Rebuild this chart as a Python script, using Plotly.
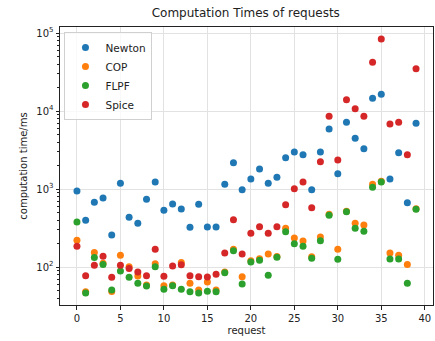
import plotly.graph_objects as go
import numpy as np

requests = list(range(40))
newton = [940, 397, 676, 767, 257, 1183, 434, 363, 738, 1231, 533, 643, 554, 323, 637, 327, 327, 1150, 2173, 980,
          1343, 1804, 1183, 1413, 2518, 2979, 2755, 980, 2979, 5875, 1571, 7160, 4467, 3290, 14550, 16370, 1343, 2917, 667, 6950]
cop = [220, 48.2, 154, 112, 48.7, 141, 101, 76.7, 58.7, 110, 57.5, 59, 114, 61.7, 50.7, 64.3, 50.7, 86, 169, 75,
       120, 128, 147, 136, 313, 235, 216, 135, 242, 474, 169, 520, 363, 345, 1150, 1256, 151, 141, 108, 558]
flpf = [378, 46.4, 132, 108, 50.7, 88.9, 73.8, 61.7, 57, 101, 51.8, 57.5, 51.8, 48.2, 46.4, 49, 48.2, 84.5, 162, 60.5,
        116, 122, 78.2, 133, 284, 199, 184, 130, 217, 460, 126, 512, 313, 287, 1052, 1231, 127, 127, 61.7, 550]
spice = [184, 77, 105, 137, 74, 105, 96, 86, 77, 169, 76, 103, 107, 77, 75, 74.5, 81, 151, 404, 147,
         270, 329, 270, 329, 630, 1010, 1231, 575, 2240, 8550, 2355, 13960, 10720, 8550, 42070, 83800, 6810, 7160, 2755, 34800]

series = [("Newton", newton, "#1f77b4"), ("COP", cop, "#ff7f0e"), ("FLPF", flpf, "#2ca02c"), ("Spice", spice, "#d62728")]

fig = go.Figure()
for name, vals, col in series:
    fig.add_trace(go.Scatter(x=requests, y=vals, mode="markers", name=name,
                             marker=dict(color=col, size=7, line=dict(width=0))))

ytick_vals = [100, 1000, 10000, 100000]
ytick_text = ["10<sup>2</sup>", "10<sup>3</sup>", "10<sup>4</sup>", "10<sup>5</sup>"]
minor_vals = [m * 10 ** e for e in range(1, 6) for m in range(2, 10)]

fig.update_layout(
    width=435, height=341,
    margin=dict(l=60, r=2, t=27, b=36),
    paper_bgcolor="white", plot_bgcolor="white",
    font=dict(family="DejaVu Sans", size=10, color="#222"),
    title=dict(text="Computation Times of requests", x=0.565, xanchor="center", y=0.962, yanchor="middle",
               font=dict(size=12, color="#222")),
    legend=dict(x=0.012, y=0.982, xanchor="left", yanchor="top", bgcolor="rgba(255,255,255,0.8)",
                bordercolor="#d0d0d0", borderwidth=1, font=dict(size=10.5), itemsizing="trace",
                itemwidth=30),
    showlegend=True,
)
fig.update_xaxes(range=[-1.95, 40.95], tickvals=[0, 5, 10, 15, 20, 25, 30, 35, 40], ticks="outside", ticklen=3.5,
                 tickcolor="#222", showline=True, linecolor="#222", linewidth=1, mirror=True,
                 showgrid=True, gridcolor="#e2e2e2", zeroline=False,
                 title=dict(text="request", standoff=4, font=dict(size=10)))
fig.update_yaxes(type="log", range=[1.513, 5.077], tickvals=ytick_vals, ticktext=ytick_text, ticks="outside", ticklen=3.5,
                 tickcolor="#222", showline=True, linecolor="#222", linewidth=1, mirror=True,
                 showgrid=True, gridcolor="#e2e2e2", zeroline=False,
                 minor=dict(tickvals=minor_vals, ticks="outside", ticklen=2, tickcolor="#222", showgrid=False),
                 title=dict(text="computation time/ms", standoff=6, font=dict(size=10)))

fig.write_html("out.html")
